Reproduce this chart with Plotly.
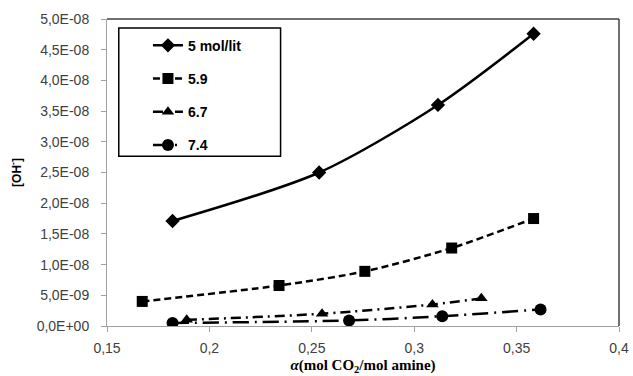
import plotly.graph_objects as go

# ---- data ----
x_5 = [0.182, 0.2536, 0.3116, 0.3583]
y_5 = [1.71e-8, 2.50e-8, 3.60e-8, 4.76e-8]

x_59 = [0.1672, 0.234, 0.2759, 0.3183, 0.3583]
y_59 = [0.40e-8, 0.66e-8, 0.89e-8, 1.27e-8, 1.75e-8]

x_67 = [0.1889, 0.255, 0.3089, 0.3328]
y_67 = [0.10e-8, 0.20e-8, 0.35e-8, 0.45e-8]

x_74 = [0.182, 0.2682, 0.3137, 0.3617]
y_74 = [0.05e-8, 0.09e-8, 0.16e-8, 0.27e-8]

names = ["5 mol/lit", "5.9", "6.7", "7.4"]

x_tickvals = [0.15, 0.2, 0.25, 0.3, 0.35, 0.4]
x_ticktext = ["0,15", "0,2", "0,25", "0,3", "0,35", "0,4"]
y_tickvals = [0, 5e-9, 1e-8, 1.5e-8, 2e-8, 2.5e-8, 3e-8, 3.5e-8, 4e-8, 4.5e-8, 5e-8]
y_ticktext = ["0,0E+00", "5,0E-09", "1,0E-08", "1,5E-08", "2,0E-08", "2,5E-08",
              "3,0E-08", "3,5E-08", "4,0E-08", "4,5E-08", "5,0E-08"]

series = [
    (x_5, y_5, names[0], "solid", "diamond", 11),
    (x_59, y_59, names[1], "7px,4px", "square", 11),
    (x_67, y_67, names[2], "10px,5px,2px,5px", "triangle-up", 11),
    (x_74, y_74, names[3], "16px,6px,2px,6px", "circle", 12),
]

fig = go.Figure()
for i, (xs, ys, nm, dash, sym, sz) in enumerate(series):
    fig.add_trace(go.Scatter(
        x=xs, y=ys, name=nm, mode="lines+markers",
        legendgroup=f"g{i}",
        line=dict(color="black", width=2.5, dash=dash, shape="spline", smoothing=0.8),
        marker=dict(symbol=sym, size=sz, color="black"),
    ))

axis_font = dict(family="Liberation Sans", size=14, color="#404040")

fig.update_layout(
    width=633, height=376,
    margin=dict(l=107, r=14, t=19, b=50),
    paper_bgcolor="white", plot_bgcolor="white",
    showlegend=True,
    legend=dict(
        x=0.08, y=0.965, xanchor="left", yanchor="top",
        traceorder="grouped", tracegroupgap=12,
        font=dict(family="Liberation Sans", size=14, color="black", weight="bold"),
        bgcolor="rgba(0,0,0,0)", borderwidth=0,
    ),
    xaxis=dict(
        range=[0.15, 0.4], tickvals=x_tickvals, ticktext=x_ticktext,
        showgrid=False, zeroline=False, showline=True, linecolor="#a0a0a0", linewidth=1,
        ticks="outside", ticklen=5, tickcolor="#a0a0a0", tickfont=axis_font,
        ticklabelstandoff=4, automargin=False,
        title=dict(text="<b><i>α</i>(mol CO<sub>2</sub>/mol amine)</b>",
                   font=dict(family="Liberation Serif", size=15, color="black"), standoff=4),
    ),
    yaxis=dict(
        range=[0, 5e-8], tickvals=y_tickvals, ticktext=y_ticktext,
        showgrid=False, zeroline=False, showline=True, linecolor="#a0a0a0", linewidth=1,
        ticks="outside", ticklen=5, tickcolor="#a0a0a0", tickfont=axis_font,
        ticklabelstandoff=9, automargin=False,
        title=dict(text="<b>[OH<sup>-</sup>]</b>",
                   font=dict(family="Liberation Sans", size=12, color="black"), standoff=12),
    ),
    shapes=[
        dict(type="line", xref="paper", yref="paper", x0=0, x1=1, y0=1, y1=1,
             line=dict(color="#404040", width=1.5)),
        dict(type="line", xref="paper", yref="paper", x0=1, x1=1, y0=0, y1=1,
             line=dict(color="#404040", width=1.5)),
        dict(type="rect", xref="paper", yref="paper", x0=0.023, x1=0.339, y0=0.553, y1=0.971,
             line=dict(color="black", width=1.5), fillcolor="rgba(0,0,0,0)"),
    ],
)

fig.write_html("out.html")
